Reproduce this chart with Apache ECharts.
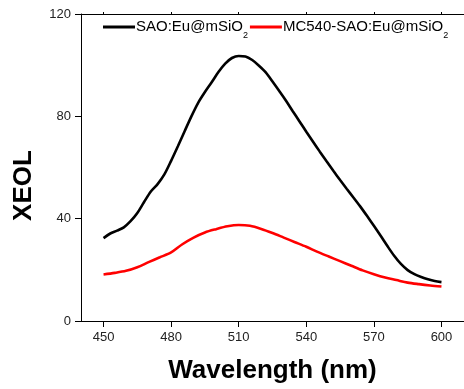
<!DOCTYPE html>
<html><head><meta charset="utf-8">
<script src="https://cdn.jsdelivr.net/npm/echarts@6/dist/echarts.min.js"></script>
<style>html,body{margin:0;padding:0;background:#fff}#c{width:464px;height:389px}</style>
</head><body><div id="c"></div>
<script>
const xTicks = [450, 480, 510, 540, 570, 600];
const yTicks = [0, 40, 80, 120];
const seriesNames = ['SAO:Eu@mSiO2', 'MC540-SAO:Eu@mSiO2'];
const blackX = [450,453,456,459,462,465,468,471,474,477,480,483,486,489,492,495,498,501,504,507,510,513,516,519,522,525,528,531,534,537,540,543,546,549,552,555,558,561,564,567,570,573,576,579,582,585,588,591,594,597,600];
const blackY = [32.4,34.2,35.3,36.6,39.0,42.2,46.5,50.6,53.5,57.3,62.6,68.3,74.2,80.0,85.3,89.5,93.3,97.3,100.6,102.8,103.6,103.4,102.0,99.8,97.2,93.6,89.9,86.1,82.0,78.0,74.0,70.1,66.2,62.4,58.7,55.1,51.6,48.2,44.7,41.0,37.2,33.3,29.3,25.5,22.3,19.9,18.3,17.2,16.3,15.6,15.2];
const redX = [450,455,460,465,470,475,480,485,490,495,500,505,510,515,520,525,530,535,540,545,550,555,560,565,570,575,580,585,590,595,600];
const redY = [18.2,18.8,19.6,21.0,23.0,24.9,26.8,30.0,32.6,34.6,35.9,37.0,37.5,37.2,36.0,34.4,32.6,30.8,29.0,27.0,25.2,23.4,21.6,19.8,18.3,17.0,16.0,15.0,14.4,13.9,13.5];

const pairs = (xs, ys) => xs.map((x, i) => [x, ys[i]]);
const chart = echarts.init(document.getElementById('c'), null, {renderer: 'canvas'});
const axisCommon = {
  axisLine: {show: true, lineStyle: {color: '#000', width: 1}},
  splitLine: {show: false}
};
const FF = 'Liberation Sans, Arial';
chart.setOption({
  animation: false,
  backgroundColor: '#fff',
  grid: {left: 81, top: 14, width: 385, height: 310, containLabel: false},
  legend: {
    left: 98, top: 14,
    icon: 'rect', itemWidth: 32, itemHeight: 3, itemGap: 2,
    data: seriesNames,
    textStyle: {
      color: '#000', fontFamily: FF, fontSize: 15, padding: [0,0,0,-4],
      rich: {
        a: {fontSize: 15, fontFamily: FF, color: '#000', lineHeight: 16, verticalAlign: 'middle'},
        s: {fontSize: 9, fontFamily: FF, color: '#000', lineHeight: 9, verticalAlign: 'top', padding: [12, 0, 0, 0]}
      }
    },
    formatter: function (n) { return '{a|' + n.slice(0, -1) + '}{s|' + n.slice(-1) + '}'; }
  },
  xAxis: [{
    type: 'value', position: 'bottom', min: 440, max: 610,
    ...axisCommon,
    axisTick: {show: true, inside: false, length: 6, lineStyle: {color: '#000'}, customValues: xTicks},
    axisLabel: {show: true, margin: 10, color: '#222', fontSize: 13, fontFamily: FF, customValues: xTicks},
    name: 'Wavelength (nm)', nameLocation: 'middle', nameGap: 37,
    nameTextStyle: {color: '#000', fontSize: 26, fontWeight: 'bold', fontFamily: FF}
  }, {
    type: 'value', position: 'top', min: 440, max: 610,
    ...axisCommon,
    axisTick: {show: true, inside: false, length: 2, lineStyle: {color: '#000'}, customValues: xTicks},
    axisLabel: {show: false}
  }],
  yAxis: [{
    type: 'value', min: 0, max: 120, interval: 40,
    ...axisCommon,
    axisTick: {show: true, inside: false, length: 6, lineStyle: {color: '#000'}},
    axisLabel: {show: true, margin: 10, color: '#222', fontSize: 13, fontFamily: FF},
    name: 'XEOL', nameLocation: 'middle', nameGap: 44, nameRotate: 90,
    nameTextStyle: {color: '#000', fontSize: 26, fontWeight: 'bold', fontFamily: FF, padding: [0, 36, 0, 0]}
  }],
  series: [{
    name: seriesNames[0], type: 'line', data: pairs(blackX, blackY), smooth: 0.3,
    showSymbol: false, lineStyle: {color: '#000', width: 2.6}, itemStyle: {color: '#000'}
  }, {
    name: seriesNames[1], type: 'line', data: pairs(redX, redY), smooth: 0.3,
    showSymbol: false, lineStyle: {color: '#f00', width: 2.6}, itemStyle: {color: '#f00'}
  }]
});
</script></body></html>
